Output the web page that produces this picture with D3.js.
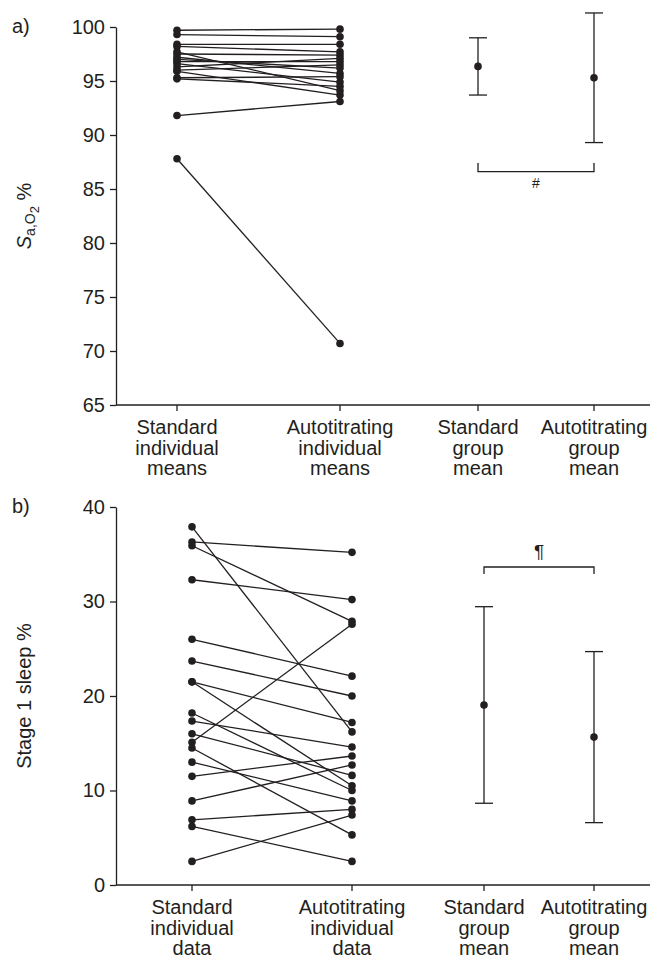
<!DOCTYPE html>
<meta charset="utf-8">
<script src="https://d3js.org/d3.v7.min.js"></script>
<style>
  body { margin: 0; background: #fff; }
  text { font-family: "Liberation Sans", Arial, sans-serif; fill: #231f20; }
</style>
<div id="chart"></div>
<script>

// ---- data ----
// panel a: SaO2 %, individual means (standard -> autotitrating)
const saoStandard = [99.7, 99.3, 98.4, 98.2, 97.7, 97.5, 97.2, 96.8, 96.6, 96.3, 96.0, 95.9, 95.3, 95.2, 97.0, 91.8, 87.8];
const saoAuto     = [99.8, 99.1, 98.4, 97.7, 94.1, 97.4, 95.7, 96.8, 94.9, 97.1, 96.5, 93.7, 95.4, 94.5, 96.2, 93.1, 70.7];
const saoMeans = [96.35, 95.3];
const saoSD    = [2.65, 6.0];

// panel b: stage 1 sleep %, individual data (standard -> autotitrating)
const stageStandard = [37.9, 36.3, 35.9, 32.3, 26.0, 23.7, 21.5, 21.5, 18.2, 17.35, 16.0, 15.1, 14.5, 13.0, 11.5, 8.9, 6.9, 6.2, 2.5];
const stageAuto     = [16.2, 35.2, 27.9, 30.2, 22.1, 20.0, 17.2, 10.5, 10.0, 14.6, 11.6, 27.6, 5.3, 8.9, 13.65, 12.7, 8.0, 2.5, 7.4];
const stageMeans = [19.05, 15.65];
const stageSD    = [10.4, 9.05];

const labelsA = [["Standard", "individual", "means"], ["Autotitrating", "individual", "means"],
                 ["Standard", "group", "mean"], ["Autotitrating", "group", "mean"]];
const labelsB = [["Standard", "individual", "data"], ["Autotitrating", "individual", "data"],
                 ["Standard", "group", "mean"], ["Autotitrating", "group", "mean"]];
const ticksA = [65, 70, 75, 80, 85, 90, 95, 100];
const ticksB = [0, 10, 20, 30, 40];

const ink = "#231f20";
const width = 662, height = 962;

const svg = d3.select("#chart").append("svg")
  .attr("width", width).attr("height", height);

function panel(opt) {
  const g = svg.append("g");
  const y = d3.scaleLinear().domain(opt.domain).range(opt.yRange);
  const x = d3.scaleOrdinal().domain([0, 1, 2, 3]).range(opt.xPos);

  // y axis
  const yAxis = g.append("g")
    .attr("transform", `translate(${opt.axisX},0)`)
    .call(d3.axisLeft(y).tickValues(opt.ticks).tickSize(6).tickSizeOuter(0).tickPadding(5));
  yAxis.select(".domain").attr("stroke", ink).attr("stroke-width", 1.3);
  yAxis.selectAll(".tick line").attr("stroke", ink).attr("stroke-width", 1.3);
  yAxis.selectAll(".tick text").attr("font-size", 20).attr("font-family", null).attr("fill", ink);

  // x axis
  const y0 = y(opt.domain[0]);
  g.append("line")
    .attr("x1", opt.axisX).attr("x2", 650).attr("y1", y0).attr("y2", y0)
    .attr("stroke", ink).attr("stroke-width", 1.3);
  const xt = g.selectAll(".xt").data(opt.labels).join("g")
    .attr("transform", (d, i) => `translate(${x(i)},${y0})`);
  xt.append("line").attr("y2", 6).attr("stroke", ink).attr("stroke-width", 1.3);
  xt.append("text")
    .attr("text-anchor", "middle").attr("font-size", 20)
    .selectAll("tspan").data(d => d).join("tspan")
      .attr("x", 0).attr("y", (d, i) => 29 + i * 20.5).text(d => d);

  // individual lines + dots
  const pairs = opt.left.map((v, i) => [v, opt.right[i]]);
  g.selectAll(".pair").data(pairs).join("line")
    .attr("x1", x(0)).attr("x2", x(1))
    .attr("y1", d => y(d[0])).attr("y2", d => y(d[1]))
    .attr("stroke", ink).attr("stroke-width", 1.3);
  g.selectAll(".dl").data(opt.left).join("circle")
    .attr("cx", x(0)).attr("cy", d => y(d)).attr("r", 3.8).attr("fill", ink);
  g.selectAll(".dr").data(opt.right).join("circle")
    .attr("cx", x(1)).attr("cy", d => y(d)).attr("r", 3.8).attr("fill", ink);

  // group means with error bars
  opt.means.forEach((m, i) => {
    const cx = x(i + 2), sd = opt.sd[i];
    g.append("line").attr("x1", cx).attr("x2", cx)
      .attr("y1", y(m - sd)).attr("y2", y(m + sd))
      .attr("stroke", ink).attr("stroke-width", 1.3);
    [m - sd, m + sd].forEach(v => g.append("line")
      .attr("x1", cx - 9).attr("x2", cx + 9).attr("y1", y(v)).attr("y2", y(v))
      .attr("stroke", ink).attr("stroke-width", 1.3));
    g.append("circle").attr("cx", cx).attr("cy", y(m)).attr("r", 3.8).attr("fill", ink);
  });

  // significance bracket
  const b = opt.bracket;
  g.append("path")
    .attr("d", `M${x(2)},${y(b.tip)}V${y(b.bar)}H${x(3)}V${y(b.tip)}`)
    .attr("fill", "none").attr("stroke", ink).attr("stroke-width", 1.3);
  g.append("text")
    .attr("x", (x(2) + x(3)) / 2).attr("y", y(b.mark))
    .attr("text-anchor", "middle").attr("font-size", b.size).text(b.symbol);

  // panel letter
  g.append("text").attr("x", 12).attr("y", opt.letterY)
    .attr("font-size", 20).text(opt.letter);

  return { g, y };
}

const a = panel({
  domain: [65, 100], yRange: [405, 27], ticks: ticksA, axisX: 116,
  xPos: [177, 340, 478, 594], labels: labelsA,
  left: saoStandard, right: saoAuto, means: saoMeans, sd: saoSD,
  bracket: { tip: 87.4, bar: 86.6, mark: 85.1, symbol: "#", size: 14 },
  letter: "a)", letterY: 33
});

const b = panel({
  domain: [0, 40], yRange: [885, 507], ticks: ticksB, axisX: 116,
  xPos: [192, 352, 484, 594], labels: labelsB,
  left: stageStandard, right: stageAuto, means: stageMeans, sd: stageSD,
  bracket: { tip: 32.9, bar: 33.65, mark: 34.6, symbol: "\u00b6", size: 19 },
  letter: "b)", letterY: 513
});

// y axis titles
const ta = svg.append("text")
  .attr("transform", `translate(31,${(27 + 405) / 2}) rotate(-90)`)
  .attr("text-anchor", "middle").attr("font-size", 20);
ta.append("tspan").attr("font-style", "italic").text("S");
ta.append("tspan").attr("font-size", 14).attr("dy", 4).text("a,O");
ta.append("tspan").attr("font-size", 13).attr("dy", 4).text("2");
ta.append("tspan").attr("dy", -8).text(" %");

svg.append("text")
  .attr("transform", `translate(31,${(507 + 885) / 2}) rotate(-90)`)
  .attr("text-anchor", "middle").attr("font-size", 20)
  .text("Stage 1 sleep %");

</script>
